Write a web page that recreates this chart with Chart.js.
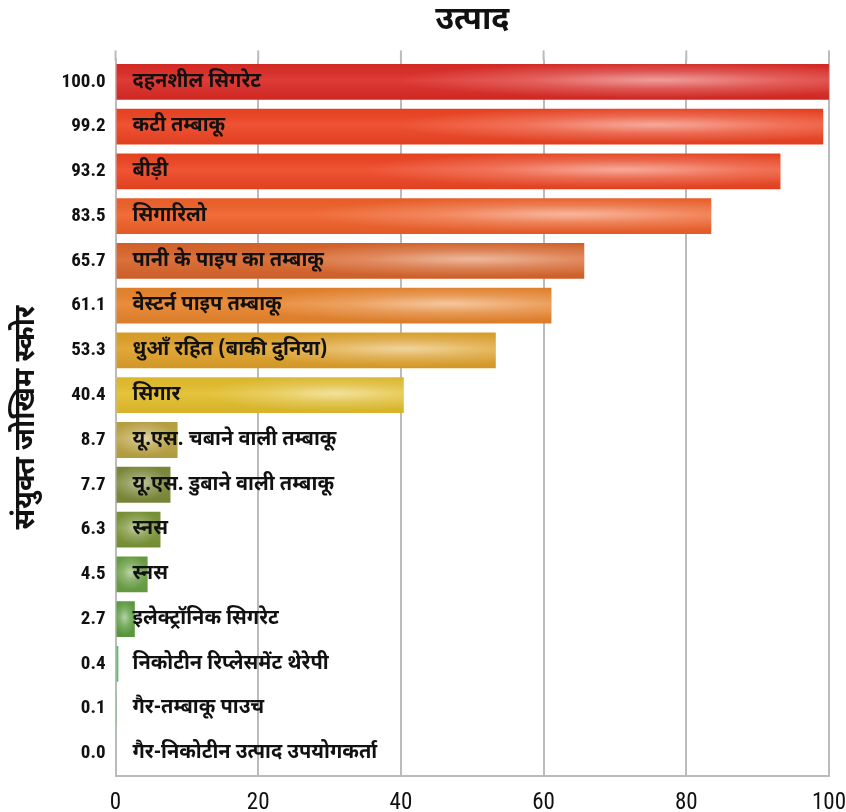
<!DOCTYPE html>
<html>
<head>
<meta charset="utf-8">
<script src="https://cdn.jsdelivr.net/npm/chart.js@4"></script>
<style>
html,body{margin:0;padding:0;background:#fff;}
#wrap{width:846px;height:812px;position:relative;}
</style>
</head>
<body>
<div id="wrap"><canvas id="c"></canvas></div>
<script>
const scoreLabels = ["100.0","99.2","93.2","83.5","65.7","61.1","53.3","40.4","8.7","7.7","6.3","4.5","2.7","0.4","0.1","0.0"];
const scores = [100.0, 99.2, 93.2, 83.5, 65.7, 61.1, 53.3, 40.4, 8.7, 7.7, 6.3, 4.5, 2.7, 0.4, 0.1, 0.0];
const products = ["दहनशील सिगरेट","कटी तम्बाकू","बीड़ी","सिगारिलो","पानी के पाइप का तम्बाकू","वेस्टर्न पाइप तम्बाकू","धुआँ रहित (बाकी दुनिया)","सिगार","यू.एस. चबाने वाली तम्बाकू","यू.एस. डुबाने वाली तम्बाकू","स्नस","स्नस","इलेक्ट्रॉनिक सिगरेट","निकोटीन रिप्लेसमेंट थेरेपी","गैर-तम्बाकू पाउच","गैर-निकोटीन उत्पाद उपयोगकर्ता"];
const barColors = ["#DC2B26","#EE4423","#EE4623","#F0612A","#D9652B","#E8842C","#DFA129","#E3BE2C","#BBA443","#7E8A3A","#7B9436","#6AA043","#5C9E3E","#5FC06A","#6CC070","#6CC070"];
const xTicks = [0,20,40,60,80,100];
const titleText = "उत्पाद";
const yTitle = "संयुक्त जोखिम स्कोर";

const DEV = "'Noto Sans Devanagari','Noto Sans','Lohit Devanagari',sans-serif";
const NUM = "'Roboto Condensed',Roboto,'Liberation Sans Narrow',sans-serif";
const GRID = '#BBBBBF';

// extend vertical grid lines a little above the plot area, as in the original
const gridExtend = {
  id: 'gridExtend',
  beforeDatasetsDraw(chart) {
    const ctx = chart.ctx, xs = chart.scales.x, top = chart.chartArea.top;
    ctx.save();
    ctx.strokeStyle = GRID;
    ctx.lineWidth = 2;
    xTicks.forEach(v => {
      const px = xs.getPixelForValue(v);
      ctx.beginPath();
      ctx.moveTo(px, top - 9);
      ctx.lineTo(px, top + 1);
      ctx.stroke();
    });
    ctx.restore();
  }
};

const glossPlugin = {
  id: 'gloss',
  afterDatasetsDraw(chart) {
    const ctx = chart.ctx;
    const meta = chart.getDatasetMeta(0);
    meta.data.forEach((bar, i) => {
      const left = Math.min(bar.base, bar.x), right = Math.max(bar.base, bar.x);
      const top = bar.y - bar.height / 2, h = bar.height, w = right - left;
      if (w > 2) {
        ctx.save();
        ctx.beginPath();
        ctx.rect(left, top, w, h);
        ctx.clip();
        const vg = ctx.createLinearGradient(0, top, 0, top + h);
        vg.addColorStop(0, 'rgba(0,0,0,0.04)');
        vg.addColorStop(0.45, 'rgba(255,255,255,0.08)');
        vg.addColorStop(1, 'rgba(0,0,0,0.06)');
        ctx.fillStyle = vg;
        ctx.fillRect(left, top, w, h);
        const cx = w > 100 ? left + w * 0.76 : left + w * 0.45;
        const rx = w > 100 ? Math.min(w * 0.45, 260) : Math.max(w * 0.5, 10);
        const ry = h * 0.5;
        ctx.translate(cx, top + h * 0.45);
        ctx.scale(rx / ry, 1);
        const rg = ctx.createRadialGradient(0, 0, 0, 0, 0, ry);
        rg.addColorStop(0, 'rgba(255,255,255,0.5)');
        rg.addColorStop(0.5, 'rgba(255,255,255,0.18)');
        rg.addColorStop(1, 'rgba(255,255,255,0)');
        ctx.fillStyle = rg;
        ctx.beginPath();
        ctx.arc(0, 0, ry, 0, Math.PI * 2);
        ctx.fill();
        ctx.restore();
      }
      ctx.save();
      ctx.font = "bold 20px " + DEV;
      ctx.fillStyle = '#111';
      ctx.textBaseline = 'middle';
      ctx.textAlign = 'left';
      const x0 = chart.scales.x.getPixelForValue(0);
      ctx.fillText(products[i], x0 + 17, bar.y + 1);
      ctx.restore();
    });
  }
};

new Chart(document.getElementById('c'), {
  type: 'bar',
  data: {
    labels: scoreLabels,
    datasets: [{
      data: scores,
      backgroundColor: barColors,
      borderWidth: 0,
      categoryPercentage: 1.0,
      barPercentage: 0.8
    }]
  },
  options: {
    indexAxis: 'y',
    responsive: true,
    maintainAspectRatio: false,
    animation: false,
    layout: { padding: { top: 0, right: 0, bottom: -19, left: 12 } },
    plugins: {
      legend: { display: false },
      tooltip: { enabled: false },
      title: {
        display: true,
        fullSize: false,
        text: titleText,
        color: '#111',
        font: { family: DEV, size: 32, weight: 'bold' },
        padding: { top: 4, bottom: 17 }
      }
    },
    scales: {
      x: {
        min: 0, max: 100,
        afterBuildTicks(axis) { axis.ticks = xTicks.map(v => ({ value: v })); },
        grid: { color: GRID, lineWidth: 2, drawTicks: false },
        border: { color: GRID, width: 2 },
        ticks: { color: '#111', font: { family: NUM, size: 23, lineHeight: 2.4 }, padding: 0, maxRotation: 0 }
      },
      y: {
        grid: { display: false, drawTicks: false },
        border: { color: GRID, width: 2 },
        ticks: { color: '#111', font: { family: NUM, size: 19, weight: 'bold' }, padding: 10 },
        title: {
          display: true,
          text: yTitle,
          color: '#111',
          font: { family: DEV, size: 28, weight: 'bold' },
          padding: { top: 0, bottom: 6 }
        }
      }
    }
  },
  plugins: [gridExtend, glossPlugin]
});
</script>
</body>
</html>
